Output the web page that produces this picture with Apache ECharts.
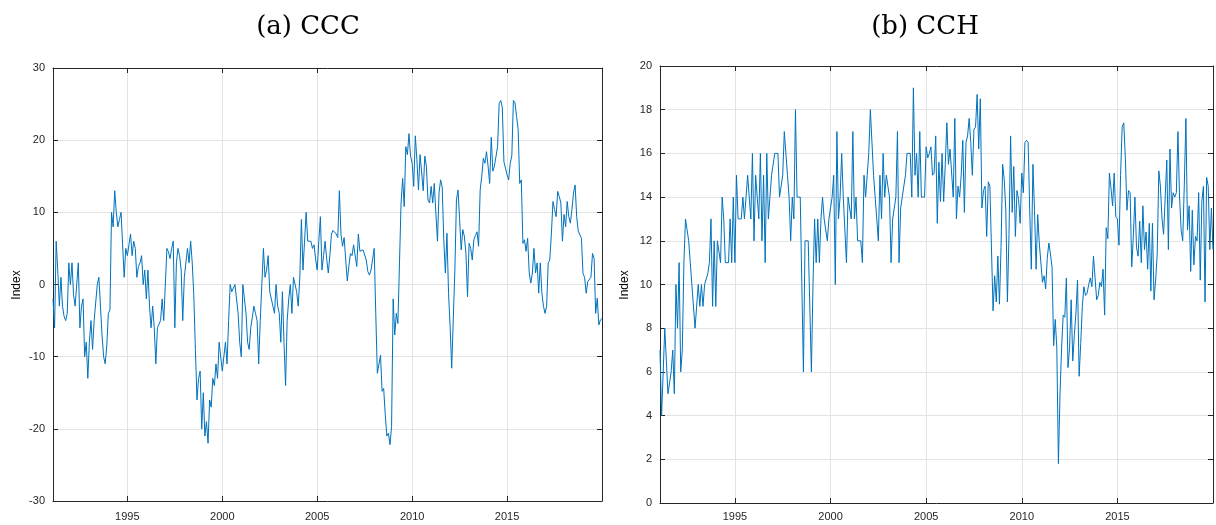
<!DOCTYPE html>
<html><head><meta charset="utf-8">
<script src="https://cdn.jsdelivr.net/npm/echarts@6/dist/echarts.min.js"></script>
<style>html,body{margin:0;padding:0;background:#fff}#c{width:1216px;height:525px}</style>
</head><body><div id="c"></div>
<script>
// First observation: February 1991, monthly through January 2020
const startYear = 1991;
const startMonth = 2;
const endYear = 2020;
const yearTicks = [1995, 2000, 2005, 2010, 2015];
const titles = ['(a) CCC', '(b) CCH'];
const yLabel = 'Index';

const ccc = [
 -2, -6, 6, 2, -3, 1, -3, -4.4, -5, -4,
 3, 0, 3, -1.5, -3, 0, 3, -6, -3, -2,
 -10, -8, -13, -8, -5, -9, -5, -5, 0, 1,
 -3, -7, -10, -11, -8.5, -4, -3.5, 10, 8, 13,
 10, 8, 9, 10, 10, 1, 5, 4, 4, 7,
 4, 6, 5, 1, 2.5, 3, 4, 0, 2, -2,
 2, -3, -6, -3, -6, -11, -6, -6, -5, -2,
 -5, -5, 5, 4.5, 3.6, 5, 6, -6, 3, 5,
 4, 2, -5, 1, 1, 5, 3, 6, 3, -1.5,
 -9, -16, -13, -12, -20, -15, -21, -19, -22, -16,
 -17, -13, -14, -11, -13, -8, -8, -12, -12, -8,
 -11, -5, 0, -1, -1, 0, 0, -4, -8, -10,
 0, -2, -4, -8, -9, -6, -6, -3, -4, -5,
 -11, -5, 0, 5, 1, 2, 4, -1, -2, -3,
 -4, 0, -3, -4, -8, -1, -8, -14, -5, -2,
 0, -4, 1, 1, -1, -3, 1, 9, 2, 2,
 10, 6, 6, 6, 5, 5.5, 3.5, 2, 6, 9.4,
 2, 4, 6, 3.5, 1.6, 4, 7, 7.5, 7.6, 7,
 6.5, 13, 7, 5.3, 6.5, 6.5, 0.5, 2.5, 4.3, 4,
 5.5, 5.3, 2.5, 7, 4.6, 4.6, 4.8, 4.6, 3.4, 1.8,
 1.3, 2, 2, 5, -4, -12.3, -12.5, -9.8, -14.8, -14.4,
 -18, -21, -20.6, -22.2, -19.7, -2, -7, -4, -5.4, 3,
 11.3, 14.7, 10.8, 19.1, 18, 20.9, 17.8, 16.8, 13.6, 20.6,
 17.3, 13.1, 18, 18, 13, 17.8, 16.4, 11.7, 11.3, 13.6,
 11.3, 14, 9.9, 6, 12.7, 14.5, 13.5, 6.2, 1.6, 7.1,
 -1.2, -5.8, -11.6, -11.5, 2, 11.7, 13.1, 9, 4.8, 7.6,
 6.7, 4.3, -1.7, 5.7, 5, 3.4, 6.2, 6.8, 7.3, 5.3,
 13.1, 15, 17.5, 16.8, 18.4, 16.4, 14, 20.4, 15.7, 16.4,
 16.2, 19.1, 25.1, 25.5, 24.5, 17, 16.8, 15.2, 14.5, 16.8,
 17.8, 25.5, 25.2, 23.3, 21.5, 14, 14.5, 5.7, 6.2, 4.6,
 6.4, 1.6, 0.2, 1.6, 5, 1.6, 3, -1.2, 3, -1.2,
 -3, -4, -3, 3, 3.4, 7, 11.5, 10.4, 9.4, 12.9,
 12.2, 11.3, 6, 9.7, 8, 11.5, 9.4, 8.5, 10.4, 12.7,
 13.8, 9.4, 7.4, 7.4, 6.4, 1.5, 1, -1.2, 0.4, 0.4,
 1, 4.3, 3.6, -4, -1.9, -5.6, -4.9, -4.7
];

const cch = [
 7, 4, 6, 8, 6.5, 5, 5.5, 6, 7, 5,
 10, 8, 11, 6, 7, 11, 13, 12.5, 12, 11,
 10, 10, 8, 8, 10, 9, 10, 9, 10, 10,
 10.5, 11, 13, 9, 12, 9, 12, 12, 11, 14,
 13, 11, 11, 11, 13, 11, 14, 11, 15, 13,
 13, 13, 14, 13, 14, 15, 14, 13, 16, 12,
 15, 14, 13, 16, 12, 15, 11, 16, 13, 13,
 15, 15, 16, 16, 16, 14, 14, 15, 17, 17,
 15, 14, 12, 14, 13, 18, 14, 14, 14, 10,
 6, 12, 12, 12, 12, 6, 10, 13, 11, 13,
 11, 13, 14, 13, 13, 12, 13, 13, 14, 15,
 10, 17, 13, 14, 16, 14, 14, 11, 14, 14,
 13, 17, 13, 14, 12, 12, 12, 11, 15, 14,
 15, 16, 18, 16.5, 15, 14, 13, 12, 15, 13,
 16, 14, 15, 14.5, 14, 11, 13, 13, 14, 17,
 11, 13.5, 14, 14.5, 15, 16, 16, 16, 14, 19,
 15, 16, 14, 17, 14, 14, 14, 16.3, 15.8, 16,
 16.3, 15, 15.1, 16.8, 12.8, 15.6, 13.8, 16, 13.8, 15.5,
 17.4, 15.5, 16.2, 15.1, 14, 17.6, 13, 14.5, 14, 15,
 16.6, 13.3, 16.5, 16.8, 17.6, 16.5, 15, 17.1, 17.2, 18.7,
 16.2, 18.5, 13.5, 14.3, 14.5, 12.2, 14.7, 14.5, 14.5, 8.8,
 10.4, 9.2, 11.3, 9.1, 11.7, 15.5, 14.8, 13.4, 9.2, 12.3,
 16.8, 13.3, 15.4, 12.2, 14.3, 13.9, 12.8, 15.1, 14.2, 16.5,
 16.6, 16.5, 13.4, 10.7, 15.5, 13.4, 10.7, 13.2, 11.9, 11.9,
 10.1, 10.4, 9.8, 11.2, 11.9, 11.4, 10.8, 7.2, 8.4, 7.1,
 1.8, 5, 7.1, 8.6, 8.5, 10.3, 6.2, 7.1, 9.3, 6.5,
 7.7, 8.7, 10.2, 5.8, 7.3, 9, 9.9, 9.5, 9.6, 10,
 10.3, 9.9, 11.3, 11.3, 9.3, 9.5, 10.1, 9.9, 10.7, 8.6,
 12.6, 12.1, 15.1, 14.4, 13.6, 15.1, 13.1, 13, 11.8, 15,
 17.2, 17.4, 15.8, 13.4, 14.3, 14.2, 10.8, 12.2, 14, 11.7,
 11.3, 12.9, 11, 13.6, 11.6, 12.4, 10.7, 12.8, 9.7, 12.8,
 9.3, 10.2, 11.4, 15.2, 14.5, 13, 12.3, 12.3, 15.7, 11.6,
 16.2, 13.5, 14.2, 14, 14.2, 17, 14, 12.5, 12, 14.6,
 17.6, 12.5, 13.6, 10.6, 13.4, 10.9, 12.2, 12, 14.2, 10.2,
 13.8, 14.5, 9.2, 14.9, 14.5, 11.6, 13.5, 11.6
];

const cccRange = {min: -30, max: 30, interval: 10};
const cchRange = {min: 0, max: 20, interval: 2};

function toSeries(vals) {
  return vals.map((v, i) => [startYear + (startMonth - 1 + i) / 12, v]);
}
const xMin = startYear + (startMonth - 1) / 12;
const xMax = endYear;

const AX = '#262626';
const GRID = '#e3e3e3';
const LABEL_FONT = '"Liberation Sans", Arial, Helvetica, sans-serif';
const BLUE = '#0072BD';

function xAxes(gi, labelMargin) {
  const base = {
    gridIndex: gi, type: 'value', min: xMin, max: xMax,
    axisLine: {show: true, onZero: false, lineStyle: {color: AX, width: 1}},
    axisTick: {show: true, inside: true, length: 5, customValues: yearTicks, lineStyle: {color: AX, width: 1}}
  };
  return [
    Object.assign({}, base, {
      position: 'bottom',
      axisLabel: {show: true, customValues: yearTicks, color: AX, fontSize: 11, fontFamily: LABEL_FONT, margin: labelMargin, formatter: v => String(Math.round(v))},
      splitLine: {show: true, lineStyle: {color: GRID, width: 1}}
    }),
    Object.assign({}, base, {
      position: 'top',
      axisLabel: {show: false},
      splitLine: {show: false}
    })
  ];
}
function yAxes(gi, r) {
  const base = {
    gridIndex: gi, type: 'value', min: r.min, max: r.max, interval: r.interval,
    axisLine: {show: true, onZero: false, lineStyle: {color: AX, width: 1}},
    axisTick: {show: true, inside: true, length: 5, lineStyle: {color: AX, width: 1}}
  };
  return [
    Object.assign({}, base, {
      position: 'left',
      axisLabel: {show: true, color: AX, fontSize: 11, fontFamily: LABEL_FONT, margin: 8},
      splitLine: {show: true, lineStyle: {color: GRID, width: 1}}
    }),
    Object.assign({}, base, {
      position: 'right',
      axisLabel: {show: false},
      splitLine: {show: false}
    })
  ];
}

function textEl(txt, x, y, font, rot) {
  return {
    type: 'text', x: x, y: y, rotation: rot || 0, silent: true,
    style: {text: txt, fill: '#000', font: font,
      textAlign: 'center', textVerticalAlign: 'middle', align: 'center', verticalAlign: 'middle'}
  };
}

const chart = echarts.init(document.getElementById('c'), null, {renderer: 'canvas'});
chart.setOption({
  animation: false,
  backgroundColor: '#fff',
  grid: [
    {left: 53, top: 68, width: 549, height: 433},
    {left: 660, top: 66, width: 553, height: 437}
  ],
  xAxis: [].concat(xAxes(0, 10), xAxes(1, 8)),
  yAxis: [].concat(yAxes(0, cccRange), yAxes(1, cchRange)),
  series: [
    {type: 'line', xAxisIndex: 0, yAxisIndex: 0, data: toSeries(ccc), showSymbol: false, symbol: 'none',
     lineStyle: {width: 1, color: BLUE}, itemStyle: {color: BLUE}, z: 3},
    {type: 'line', xAxisIndex: 2, yAxisIndex: 2, data: toSeries(cch), showSymbol: false, symbol: 'none',
     lineStyle: {width: 1, color: BLUE}, itemStyle: {color: BLUE}, z: 3}
  ],
  graphic: [
    textEl(titles[0], 308, 27, '26px "DejaVu Serif", serif'),
    textEl(titles[1], 925, 27, '26px "DejaVu Serif", serif'),
    textEl(yLabel, 17, 285, '12px ' + LABEL_FONT, Math.PI / 2),
    textEl(yLabel, 625, 285, '12px ' + LABEL_FONT, Math.PI / 2)
  ]
});
</script>
</body></html>
